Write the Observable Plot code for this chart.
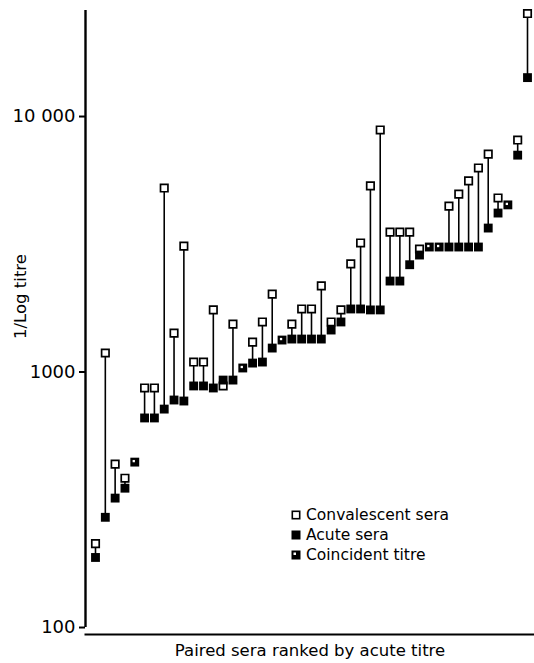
<!DOCTYPE html>
<html>
<head>
<meta charset="utf-8">
<script src="https://cdn.jsdelivr.net/npm/d3@7"></script>
<script src="https://cdn.jsdelivr.net/npm/@observablehq/plot@0.6"></script>
<style>
  html, body { margin: 0; padding: 0; background: #fff; }
  #wrap { position: relative; width: 534px; height: 663px; }
  #legend { position: absolute; left: 291px; top: 505px; font-family: "DejaVu Sans", sans-serif; font-size: 15.5px; color: #000; }
  #legend .row { display: flex; align-items: center; height: 20px; }
  #legend svg { margin-right: 5px; }
</style>
</head>
<body>
<div id="wrap"><div id="legend"></div></div>
<script>
// Pairs ranked by acute titre (reciprocal titres)
const acute = [188, 270, 321, 351, 444, 661, 661, 716, 777, 770, 882, 882, 866, 930, 930, 1037, 1084, 1094, 1241, 1334, 1346, 1346, 1346, 1346, 1460, 1570, 1765, 1765, 1750, 1750, 2270, 2270, 2630, 2870, 3085, 3085, 3085, 3085, 3085, 3085, 3660, 4190, 4510, 7060, 14200];
const convalescent = [213, 1187, 436, 384, 444, 866, 866, 5250, 1420, 3110, 1094, 1094, 1750, 882, 1540, 1037, 1310, 1570, 2018, 1334, 1540, 1765, 1765, 2173, 1570, 1750, 2650, 3200, 5350, 8860, 3530, 3530, 3530, 3030, 3085, 3085, 4460, 4970, 5600, 6290, 7130, 4800, 4510, 8090, 25300];
const coincidentIndex = [4, 15, 19, 34, 35, 42];
const yTicks = [100, 1000, 10000];
const yTickLabels = ["100", "1000", "10 000"];
const yLabel = "1/Log titre";
const xLabel = "Paired sera ranked by acute titre";
const legendLabels = ["Convalescent sera", "Acute sera", "Coincident titre"];

const pairs = acute.map((a, i) => ({ i, acute: a, conv: convalescent[i], coincident: coincidentIndex.includes(i) }));
const paired = pairs.filter(d => !d.coincident);
const coincident = pairs.filter(d => d.coincident);

const xDomain = [-1.0185, 44.713];
const yDomain = [93.9, 26000];

const chart = Plot.plot({
  width: 534,
  height: 663,
  marginLeft: 85,
  marginRight: 0,
  marginTop: 10,
  marginBottom: 29,
  style: { fontFamily: "DejaVu Sans, sans-serif", fontSize: "15px", color: "#000", background: "#fff" },
  x: { domain: xDomain, axis: null },
  y: { type: "log", domain: yDomain, axis: null },
  marks: [
    Plot.frame({ anchor: "bottom", stroke: "#000", strokeWidth: 2 }),
    Plot.ruleX([xDomain[0]], { y1: yTicks[0], y2: yDomain[1], stroke: "#000", strokeWidth: 2.4 }),
    Plot.axisY(yTicks, {
      anchor: "left",
      tickSize: 6,
      tickPadding: 4,
      strokeWidth: 2,
      fontSize: 18,
      tickFormat: d => yTickLabels[yTicks.indexOf(d)],
      label: null
    }),
    Plot.text([yLabel], { frameAnchor: "left", textAnchor: "middle", lineAnchor: "middle", rotate: -90, dx: -65, dy: -26, fontSize: 16.5, fill: "#000" }),
    Plot.text([xLabel], { frameAnchor: "bottom", textAnchor: "middle", dy: 21, fontSize: 16.5, fill: "#000" }),
    Plot.ruleX(paired, { x: "i", y1: "acute", y2: "conv", stroke: "#000", strokeWidth: 1.6 }),
    Plot.dot(paired, { x: "i", y: "conv", symbol: "square", r: 4.2, fill: "#fff", stroke: "#000", strokeWidth: 1.7 }),
    Plot.dot(paired, { x: "i", y: "acute", symbol: "square", r: 5, fill: "#000", stroke: "none" }),
    Plot.dot(coincident, { x: "i", y: "acute", symbol: "square", r: 5, fill: "#000", stroke: "none" }),
    Plot.dot(coincident, { x: "i", y: "acute", symbol: "square", r: 1.3, dx: -1, dy: -1, fill: "#fff", stroke: "none" })
  ]
});
document.getElementById("wrap").prepend(chart);

// Legend
const legend = document.getElementById("legend");
const legendMarks = [
  '<svg width="10" height="10"><rect x="1.3" y="1.3" width="7.4" height="7.4" fill="#fff" stroke="#000" stroke-width="1.6"/></svg>',
  '<svg width="10" height="10"><rect x="0.5" y="0.5" width="9" height="9" fill="#000"/></svg>',
  '<svg width="10" height="10"><rect x="0.5" y="0.5" width="9" height="9" fill="#000"/><rect x="2.5" y="2.5" width="2.5" height="2.5" fill="#fff"/></svg>'
];
legendLabels.forEach((label, k) => {
  const row = document.createElement("div");
  row.className = "row";
  row.innerHTML = legendMarks[k] + "<span>" + label + "</span>";
  legend.appendChild(row);
});
</script>
</body>
</html>
